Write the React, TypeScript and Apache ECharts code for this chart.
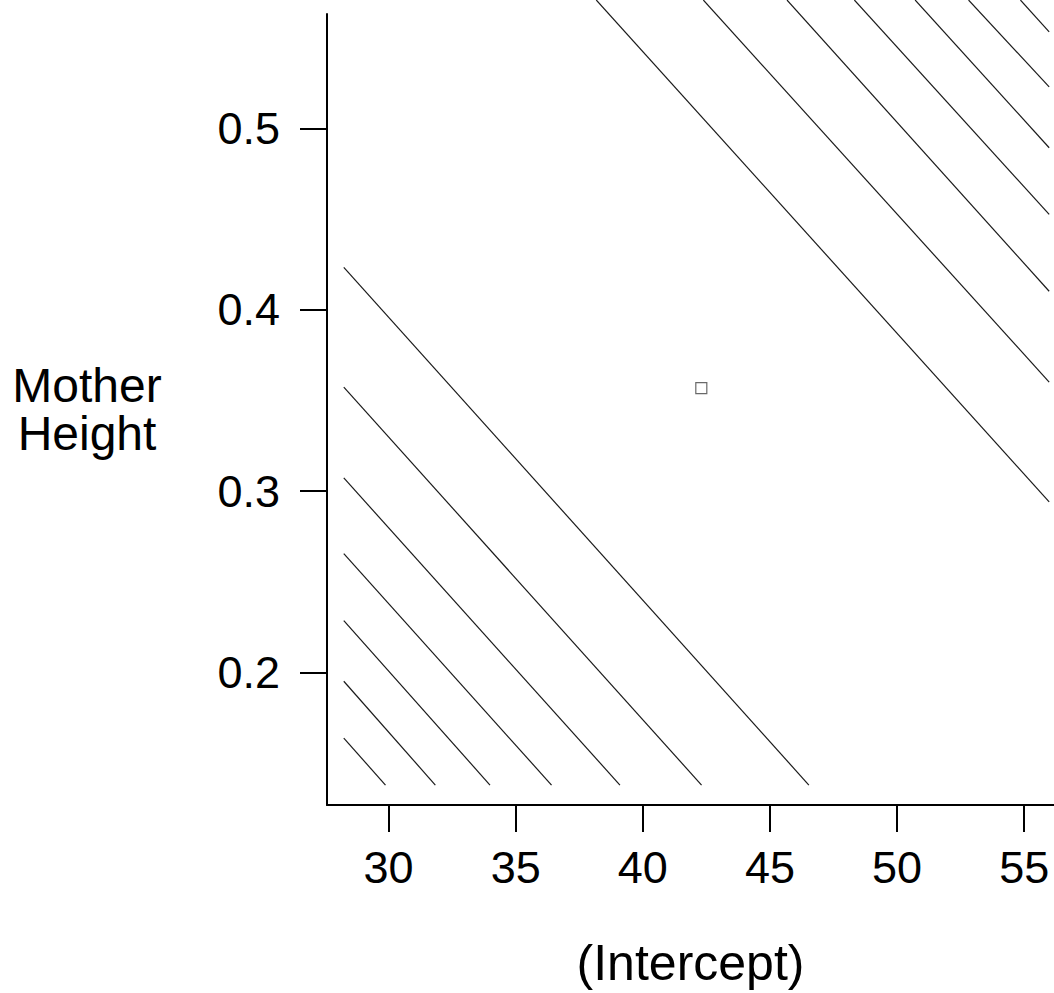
import React, { useEffect, useRef } from "react";
import * as echarts from "echarts";

// Axis ranges and ticks
const xMin = 27.58;
const xMax = 56.17;
const yMin = 0.1268;
const yMax = 0.5633;
const xTicks = [30, 35, 40, 45, 50, 55];
const yTicks = [0.2, 0.3, 0.4, 0.5];

// Contour segments (start, end) in data units: lower-left family
const lowerContours: number[][][] = [
  [[28.24, 0.4235], [46.53, 0.1378]],
  [[28.24, 0.3574], [42.31, 0.1378]],
  [[28.24, 0.3073], [39.1, 0.1378]],
  [[28.24, 0.2655], [36.41, 0.1378]],
  [[28.24, 0.2286], [33.99, 0.1378]],
  [[28.24, 0.1951], [31.84, 0.1378]],
  [[28.24, 0.1637], [29.88, 0.1378]],
];

// Upper-right family (run off the top and right of the picture)
const upperContours: number[][][] = [
  [[38.17, 0.571], [55.98, 0.2941]],
  [[42.38, 0.571], [55.98, 0.3602]],
  [[45.67, 0.571], [55.98, 0.4103]],
  [[48.32, 0.571], [55.98, 0.4527]],
  [[50.71, 0.571], [55.98, 0.4895]],
  [[52.81, 0.571], [55.98, 0.5231]],
  [[54.85, 0.571], [55.98, 0.5534]],
];

// Point estimate
const estimate: number[][] = [[42.3, 0.3569]];

const FONT = "'Liberation Sans', Arial, sans-serif";

export default function App() {
  const ref = useRef<HTMLDivElement>(null);

  useEffect(() => {
    document.body.style.margin = "0";
    document.body.style.overflow = "hidden";
    document.documentElement.style.overflow = "hidden";
    if (!ref.current) return;
    const chart = echarts.init(ref.current, undefined, { renderer: "svg" });

    const lineSeries = [...lowerContours, ...upperContours].map((seg, i) => ({
      type: "line" as const,
      name: "contour" + i,
      data: seg,
      showSymbol: false,
      symbol: "none",
      clip: false,
      silent: true,
      lineStyle: { color: "#1a1a1a", width: 1.2 },
    }));

    chart.setOption({
      animation: false,
      backgroundColor: "#fff",
      grid: { left: 327, top: 14, width: 732, height: 793, containLabel: false },
      xAxis: {
        type: "value",
        min: xMin,
        max: xMax,
        name: "(Intercept)",
        nameLocation: "middle",
        nameGap: 158,
        nameTextStyle: {
          fontFamily: FONT,
          fontSize: 50,
          color: "#000",
          verticalAlign: "middle",
        },
        axisLine: { show: true, lineStyle: { color: "#000", width: 2 } },
        axisTick: {
          show: true,
          inside: false,
          length: 27,
          lineStyle: { color: "#000", width: 2 },
          customValues: xTicks,
        },
        axisLabel: {
          fontFamily: FONT,
          fontSize: 45,
          color: "#000",
          margin: 40,
          customValues: xTicks,
        },
        splitLine: { show: false },
      },
      yAxis: {
        type: "value",
        min: yMin,
        max: yMax,
        name: "Mother\nHeight",
        nameLocation: "middle",
        nameRotate: 0,
        nameGap: 240,
        nameTextStyle: {
          fontFamily: FONT,
          fontSize: 48,
          color: "#000",
          align: "center",
          verticalAlign: "middle",
          lineHeight: 48,
        },
        axisLine: { show: true, lineStyle: { color: "#000", width: 2 } },
        axisTick: {
          show: true,
          inside: false,
          length: 27,
          lineStyle: { color: "#000", width: 2 },
          customValues: yTicks,
        },
        axisLabel: {
          fontFamily: FONT,
          fontSize: 45,
          color: "#000",
          margin: 47,
          customValues: yTicks,
          formatter: (v: number) => v.toFixed(1),
        },
        splitLine: { show: false },
      },
      series: [
        ...lineSeries,
        {
          type: "scatter",
          name: "estimate",
          data: estimate,
          symbol: "rect",
          symbolSize: 11,
          silent: true,
          itemStyle: { color: "#fff", borderColor: "#444", borderWidth: 1.2 },
        },
      ],
    });

    return () => chart.dispose();
  }, []);

  return (
    <div
      ref={ref}
      style={{ position: "fixed", left: 0, top: 0, width: 1054, height: 993 }}
    />
  );
}
